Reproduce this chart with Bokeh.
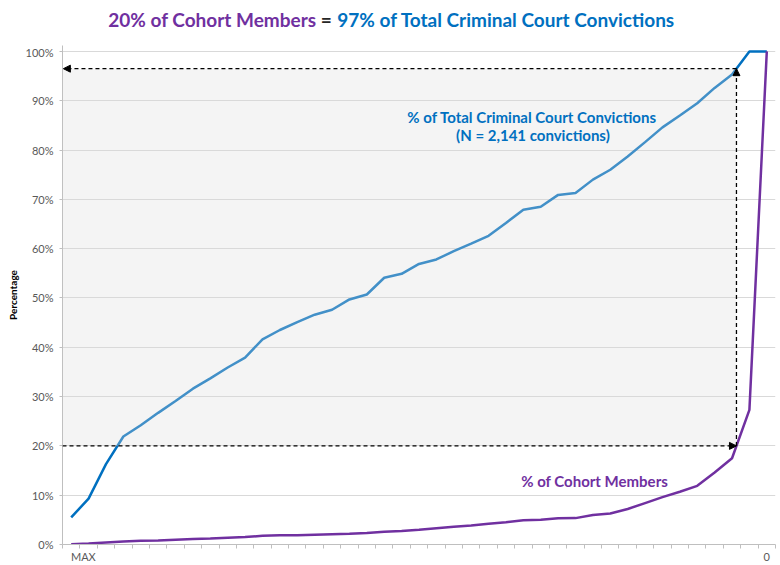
import numpy as np
from bokeh.plotting import figure
from bokeh.layouts import column
from bokeh.models import (Range1d, FixedTicker, NumeralTickFormatter, CustomJSTickFormatter,
                          BoxAnnotation, Arrow, NormalHead, Label)
from bokeh.embed import file_html
from bokeh.resources import INLINE

# ---------------- data ----------------
categories = list(range(41))
convictions_pct = [5.5, 9.3, 16.3, 21.9, 24.2, 26.7, 29.1, 31.6, 33.7, 35.9,
                   37.9, 41.6, 43.5, 45.1, 46.6, 47.6, 49.7, 50.7, 54.1, 54.9,
                   56.9, 57.8, 59.5, 61.0, 62.6, 65.2, 67.9, 68.5, 70.9, 71.3,
                   74.0, 76.0, 78.7, 81.6, 84.6, 87.0, 89.5, 92.6, 95.3, 100.0,
                   100.0]
cohort_pct = [0.05, 0.2, 0.4, 0.6, 0.75, 0.8, 0.95, 1.1, 1.2, 1.35,
              1.5, 1.75, 1.9, 1.9, 2.0, 2.1, 2.2, 2.35, 2.6, 2.75,
              3.0, 3.3, 3.6, 3.85, 4.2, 4.5, 4.9, 5.0, 5.3, 5.35,
              6.0, 6.3, 7.2, 8.4, 9.6, 10.7, 11.9, 14.6, 17.5, 27.3,
              100.0]
x_tick_labels = ["MAX", "0"]
y_ticks = [0, 10, 20, 30, 40, 50, 60, 70, 80, 90, 100]
cohort_threshold = 20.0

title_left = "20% of Cohort Members"
title_mid = "="
title_right = "97% of Total Criminal Court Convictions"
conv_label = ["% of Total Criminal Court Convictions", "(N = 2,141 convictions)"]
cohort_label = "% of Cohort Members"

PURPLE = "#7030a0"
BLUE = "#0070c0"
FONT = "Lato"

conv = np.array(convictions_pct) / 100.0
coh = np.array(cohort_pct) / 100.0
xs = np.array(categories, dtype=float)

x_cross = float(np.interp(cohort_threshold / 100.0, coh, xs))
y_cross = float(np.interp(x_cross, xs, conv))

x_range = Range1d(-0.5, len(categories) - 0.5)

# ---------------- title strip ----------------
t = figure(width=780, height=45, output_backend="svg", toolbar_location=None,
           x_range=x_range, y_range=Range1d(0, 45),
           x_axis_location=None, y_axis_location=None,
           min_border_left=62, min_border_right=5, min_border_top=0, min_border_bottom=0,
           background_fill_color="white", border_fill_color="white")
t.outline_line_color = None
t.grid.visible = False
t.title.visible = False
for xx, txt, al, col in [(14.1, title_left, "right", PURPLE),
                         (14.66, title_mid, "center", "#262626"),
                         (15.3, title_right, "left", BLUE)]:
    t.add_layout(Label(x=xx, y=26, text=txt, text_align=al, text_baseline="middle",
                       text_font=FONT, text_font_style="bold", text_font_size="19px",
                       text_color=col))

# ---------------- main chart ----------------
p = figure(width=780, height=520, output_backend="svg", toolbar_location=None,
           x_range=x_range, y_range=Range1d(0, 1.012),
           min_border_left=62, min_border_right=5, min_border_top=0, min_border_bottom=21,
           background_fill_color="white", border_fill_color="white")
p.outline_line_color = None
p.title.visible = False

xa = p.xaxis[0]
xa.ticker = FixedTicker(ticks=[0.7, len(categories) - 1],
                        minor_ticks=[i - 0.5 for i in range(len(categories) + 1)])
xa.formatter = CustomJSTickFormatter(args=dict(labels=x_tick_labels),
                                     code="return tick < 20 ? labels[0] : labels[1];")
xa.major_tick_line_color = None
xa.major_tick_out = 4
xa.minor_tick_in = 0
xa.minor_tick_out = 4
xa.minor_tick_line_color = "#bfbfbf"
xa.axis_line_color = "#bfbfbf"
xa.major_label_text_font = FONT
xa.major_label_text_font_size = "11px"
xa.major_label_text_color = "#595959"
xa.major_label_standoff = 1

ya = p.yaxis[0]
ya.ticker = FixedTicker(ticks=[v / 100.0 for v in y_ticks])
ya.formatter = NumeralTickFormatter(format="0%")
ya.axis_line_color = "#bfbfbf"
ya.major_tick_in = 0
ya.major_tick_out = 3
ya.major_tick_line_color = "#bfbfbf"
ya.minor_tick_line_color = None
ya.major_label_text_font = FONT
ya.major_label_text_font_size = "11px"
ya.major_label_text_color = "#595959"
ya.major_label_standoff = 6
ya.axis_label = "Percentage"
ya.axis_label_text_font = FONT
ya.axis_label_text_font_style = "bold"
ya.axis_label_text_font_size = "10px"
ya.axis_label_text_color = "black"
ya.axis_label_standoff = 4

p.xgrid.grid_line_color = None
p.ygrid.grid_line_color = "#d9d9d9"
p.ygrid.grid_line_width = 1

p.line(xs, conv, line_color=BLUE, line_width=2.5)
p.line(xs, coh, line_color=PURPLE, line_width=2.5)

p.add_layout(BoxAnnotation(right=x_cross, bottom=cohort_threshold / 100.0, top=y_cross,
                           fill_color="#d9d9d9", fill_alpha=0.3, line_color=None))

def arrow(x0, y0, x1, y1):
    p.add_layout(Arrow(end=NormalHead(size=7, fill_color="black", line_color="black"),
                       x_start=x0, y_start=y0, x_end=x1, y_end=y1,
                       line_color="black", line_width=1.3, line_dash="4 3"))

arrow(-0.5, cohort_threshold / 100.0, x_cross, cohort_threshold / 100.0)
arrow(x_cross, cohort_threshold / 100.0, x_cross, y_cross)
arrow(x_cross, y_cross, -0.45, y_cross)

p.add_layout(Label(x=26.5, y=0.868, text=conv_label[0], text_align="center",
                   text_baseline="middle", text_font=FONT, text_font_style="bold",
                   text_font_size="15px", text_color=BLUE))
p.add_layout(Label(x=26.55, y=0.831, text=conv_label[1], text_align="center",
                   text_baseline="middle", text_font=FONT, text_font_style="bold",
                   text_font_size="15px", text_color=BLUE))
p.add_layout(Label(x=30.1, y=0.128, text=cohort_label, text_align="center",
                   text_baseline="middle", text_font=FONT, text_font_style="bold",
                   text_font_size="15px", text_color=PURPLE))

open("out.html", "w").write(file_html(column(t, p, spacing=0), INLINE))
